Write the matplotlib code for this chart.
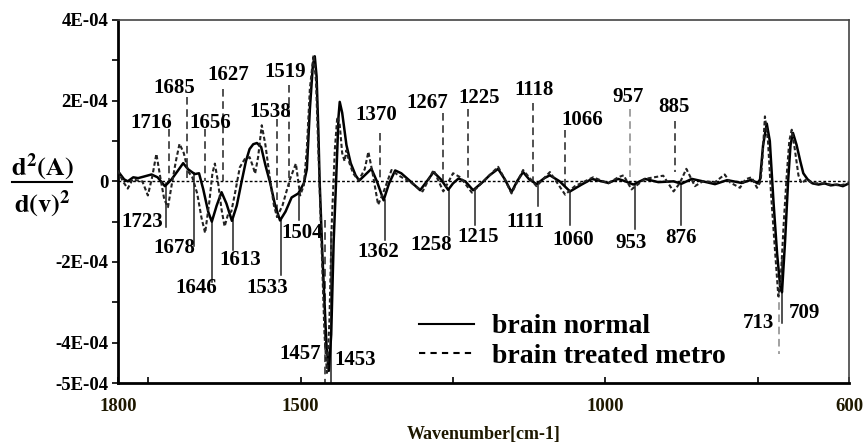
import matplotlib
matplotlib.use("Agg")
import matplotlib.pyplot as plt
from matplotlib.lines import Line2D
import numpy as np

# ---------------- data (values in units of 1E-04) ----------------
SCALE = 1e-4
normal_w = [1800, 1790, 1784, 1775, 1767, 1757, 1745, 1735, 1723, 1712, 1700, 1693, 1685, 1674,
            1667, 1660, 1652, 1646, 1638, 1630, 1622, 1613, 1605, 1597, 1590, 1584, 1578, 1572, 1565,
            1558, 1550, 1542, 1534, 1525, 1515, 1504, 1495, 1490, 1485, 1480, 1477, 1474, 1471,
            1469, 1464, 1458, 1454, 1450, 1446, 1442, 1438, 1436, 1432, 1425, 1418, 1410, 1404,
            1395, 1384, 1375, 1364, 1355, 1345, 1335, 1320, 1304, 1293, 1282, 1270, 1258, 1250,
            1241, 1230, 1217, 1200, 1190, 1176, 1165, 1154, 1145, 1135, 1125, 1113, 1100, 1091,
            1075, 1058, 1039, 1022, 995, 979, 967, 954, 935, 913, 888, 875, 858, 840, 820, 800,
            776, 760, 750, 746, 741, 735, 730, 724, 718, 713, 710, 705, 700, 696, 692, 686, 680,
            675, 668, 660, 650, 640, 630, 620, 610, 600]
normal_v = [0.25, 0.05, 0.0, 0.1, 0.08, 0.12, 0.17, 0.1, -0.12, 0.05, 0.3, 0.45, 0.3, 0.18,
            0.2, -0.2, -0.75, -1.0, -0.6, -0.27, -0.55, -0.98, -0.6, 0.0, 0.5, 0.8, 0.92, 0.95, 0.85,
            0.4, -0.05, -0.6, -0.97, -0.75, -0.4, -0.3, -0.05, 0.3, 1.8, 2.9, 3.1, 2.6, 1.2,
            0.0, -2.0, -4.0, -4.7, -3.8, -1.5, 0.0, 1.6, 1.97, 1.7, 0.9, 0.45, 0.15, 0.02,
            0.15, 0.31, 0.0, -0.47, -0.05, 0.27, 0.2, 0.0, -0.22, 0.0, 0.23, 0.05, -0.21, -0.05,
            0.07, 0.0, -0.22, 0.0, 0.15, 0.31, 0.05, -0.27, 0.0, 0.23, 0.05, -0.07, 0.08, 0.15,
            0.0, -0.25, -0.08, 0.06, -0.04, 0.06, 0.0, -0.08, 0.06, -0.02, 0.0, -0.06, 0.06, 0.0, -0.07, 0.03,
            -0.04, 0.04, -0.05, 0.05, 0.9, 1.43, 1.0, -0.5, -1.8, -2.6, -2.75, -1.5, 0.0, 0.9, 1.2, 0.9, 0.5,
            0.2, 0.05, -0.05, -0.08, -0.05, -0.1, -0.08, -0.12, -0.05]

metro_w = [1800, 1792, 1784, 1776, 1768, 1760, 1751, 1744, 1737, 1730, 1724, 1718, 1712, 1705,
           1699, 1692, 1685, 1678, 1670, 1663, 1657, 1650, 1645, 1641, 1636, 1630, 1625, 1619,
           1614, 1608, 1600, 1592, 1584, 1578, 1575, 1570, 1564, 1558, 1550, 1544, 1539, 1530,
           1518, 1508, 1501, 1495, 1490, 1485, 1479, 1475, 1470, 1465, 1461, 1457, 1453, 1449,
           1444, 1440, 1436, 1432, 1428, 1425, 1420, 1414, 1405, 1395, 1389, 1382, 1373, 1365,
           1351, 1340, 1320, 1300, 1282, 1266, 1250, 1238, 1219, 1200, 1176, 1165, 1154, 1135,
           1113, 1091, 1066, 1050, 1020, 995, 979, 970, 957, 935, 905, 888, 878, 867, 853, 840,
           820, 804, 795, 779, 770, 760, 751, 745, 742, 738, 733, 728, 722, 716, 712, 707, 702,
           698, 694, 689, 683, 678, 670, 660, 645, 630, 615, 600]
metro_v = [0.27, 0.0, -0.18, 0.05, 0.02, 0.0, -0.35, 0.1, 0.68, 0.05, -0.45, -0.64, -0.1, 0.5,
           0.93, 0.7, 0.25, 0.1, -0.3, -0.9, -1.28, -0.5, 0.2, 0.44, 0.0, -0.7, -1.12, -0.8,
           -0.75, -0.3, 0.35, 0.55, 0.6, 0.35, 0.19, 0.6, 1.39, 0.9, 0.0, -0.6, -0.88, -0.6,
           0.04, 0.44, -0.35, -0.1, 0.8, 2.3, 3.13, 2.5, 0.3, -2.0, -3.8, -4.75, -3.5, -1.0,
           0.8, 1.6, 1.4, 0.7, 0.5, 0.77, 0.45, 0.2, 0.02, 0.3, 0.73, 0.2, -0.58, -0.3,
           0.28, 0.15, -0.02, -0.25, 0.28, -0.25, 0.2, 0.1, -0.28, 0.0, 0.36, 0.05, -0.3, 0.28,
           -0.12, 0.23, -0.33, -0.12, 0.1, -0.05, 0.1, 0.15, -0.2, 0.06, 0.14, -0.25, -0.05, 0.31, -0.12, 0.0,
           -0.02, 0.17, -0.03, -0.16, 0.05, 0.1, -0.16, 0.0, 0.6, 1.61, 1.0, -0.3, -1.6, -2.85, -2.4, -1.0, 0.2,
           1.0, 1.28, 0.8, 0.15, -0.05, 0.05, -0.05, -0.05, -0.08, -0.1, -0.05]

series_names = ["brain normal", "brain treated metro"]

# peak annotations: label, marker wavenumber, line start, line end (1E-04)
up_labels = ["1716", "1685", "1656", "1627", "1538", "1519", "1370", "1267", "1225", "1118", "1066", "957", "885", "713"]
up_mark_w = [1716, 1687, 1658, 1627, 1539, 1520, 1370, 1267, 1225, 1118, 1066, 959, 886, 715]
up_y0 = [1.3, 2.1, 1.3, 2.3, 1.55, 2.4, 1.2, 1.7, 1.8, 1.95, 1.27, 1.8, 1.5, -2.7]
up_y1 = [0.0, 0.0, 0.0, 0.0, -0.9, -0.14, 0.0, 0.0, 0.0, 0.0, -0.2, 0.1, 0.23, -4.27]

down_labels = ["1723", "1678", "1646", "1613", "1533", "1504", "1457", "1453", "1362", "1258", "1215",
               "1111", "1060", "953", "876", "709"]
down_mark_w = [1722, 1676, 1646, 1612, 1532, 1503, 1461, 1451, 1362, 1257, 1214, 1110, 1058, 952, 875, 710]
down_y0 = [-0.05, 0.2, -0.97, -0.97, -0.97, -0.3, -0.97, -1.26, -0.47, -0.21, -0.22, -0.07, -0.25, -0.08, -0.06, -1.96]
down_y1 = [-1.13, -1.6, -2.5, -1.7, -2.33, -0.97, -5.0, -5.0, -1.46, -1.34, -1.09, -0.6, -1.09, -1.17, -1.09, -3.5]

ytick_vals = [4, 2, 0, -2, -4, -5]
ytick_labels = ["4E-04", "2E-04", "0", "-2E-04", "-4E-04", "-5E-04"]
xtick_vals = [1800, 1500, 1000, 600]

# ---------------- layout (pixel based) ----------------
W, H = 864, 442
def fx(px): return px / W
def fy(py): return 1 - py / H

# text positions for annotations (pixel centers)
up_text_px = [(151, 123), (174, 88), (210, 123), (228, 75), (270, 112), (285, 72), (376, 115),
              (427, 103), (479, 98), (534, 90), (582, 120), (628, 97), (674, 107), (758, 323)]
down_text_px = [(142, 222), (174, 248), (196, 288), (240, 260), (267, 288), (302, 233), (300, 354),
                (355, 360), (378, 252), (431, 245), (478, 237), (525, 222), (573, 240), (631, 243),
                (681, 238), (804, 313)]
gray_up = {"957", "713"}

SERIF = "Liberation Serif"
plt.rcParams["font.family"] = [SERIF, "DejaVu Serif"]
plt.rcParams["mathtext.fontset"] = "stix"

fig = plt.figure(figsize=(W / 100, H / 100), dpi=100)
ax = fig.add_axes([fx(118), fy(383), fx(849) - fx(118), fy(20) - fy(383)])

ax.set_xlim(1800, 600)
ax.set_ylim(-5 * SCALE, 4 * SCALE)

ax.axhline(0, color="black", lw=1.0, ls=(0, (2, 1.5)), zorder=1)

ax.plot(normal_w, np.array(normal_v) * SCALE, color="black", lw=1.8, zorder=3,
        solid_joinstyle="round")
ax.plot(metro_w, np.array(metro_v) * SCALE, color="#222222", lw=1.5, ls=(0, (2, 1.2)), zorder=4)

def px_to_data(px, py):
    disp = fig.transFigure.transform((fx(px), fy(py)))
    return ax.transData.inverted().transform(disp)

for lab, w, y0, y1, (tx, ty) in zip(up_labels, up_mark_w, up_y0, up_y1, up_text_px):
    col = "#888888" if lab in gray_up else "#222222"
    ax.plot([w, w], [y0 * SCALE, y1 * SCALE], color=col, lw=1.1, ls=(0, (5, 3)), zorder=2)
    dx, dy = px_to_data(tx, ty)
    ax.text(dx, dy, lab, ha="center", va="center", fontsize=15, fontweight="bold",
            family=SERIF, color="black", zorder=5)

for lab, w, y0, y1, (tx, ty) in zip(down_labels, down_mark_w, down_y0, down_y1, down_text_px):
    ls = (0, (5, 3)) if lab == "1457" else "-"
    ax.plot([w, w], [y0 * SCALE, y1 * SCALE], color="#222222", lw=1.1, ls=ls, zorder=2)
    dx, dy = px_to_data(tx, ty)
    ax.text(dx, dy, lab, ha="center", va="center", fontsize=15, fontweight="bold",
            family=SERIF, color="black", zorder=5)

# ticks
ax.set_yticks([v * SCALE for v in ytick_vals])
ax.set_yticklabels(ytick_labels)
ax.set_yticks([v * SCALE for v in [3, 1, -1, -3]], minor=True)
ax.set_xticks(xtick_vals)
ax.set_xticklabels([str(v) for v in xtick_vals])
ax.set_xticks([1750, 1250, 750], minor=True)
ax.tick_params(axis="y", which="both", direction="out", length=4, width=1.2, pad=3,
               labelsize=13.5)
ax.tick_params(axis="x", which="both", direction="in", length=4, width=1.2, pad=11,
               labelsize=13.5, labelcolor="#1e1800")
for t in ax.get_yticklabels() + ax.get_xticklabels():
    t.set_fontweight("bold")

for s in ["left", "bottom"]:
    ax.spines[s].set_linewidth(2.0)
    ax.spines[s].set_color("black")
for s in ["top", "right"]:
    ax.spines[s].set_linewidth(1.2)
    ax.spines[s].set_color("#444444")

ax.set_xlabel("Wavenumber[cm-1]", fontsize=13, fontweight="bold", color="#1e1800", labelpad=8)

# y label as a fraction
fig.text(fx(42), fy(167), r"$\mathbf{d^2(A)}$", ha="center", va="center", fontsize=19)
fig.text(fx(42), fy(204), r"$\mathbf{d(v)^2}$", ha="center", va="center", fontsize=19)
fig.add_artist(Line2D([fx(12), fx(72)], [fy(182), fy(182)], color="black", lw=1.5,
                      transform=fig.transFigure))

handles = [Line2D([], [], color="black", lw=1.5),
           Line2D([], [], color="black", lw=1.5, ls=(0, (3, 2.5)))]
leg = ax.legend(handles, series_names, loc="upper left",
                bbox_to_anchor=(fx(405), fy(300)), bbox_transform=fig.transFigure,
                frameon=False, prop={"family": SERIF, "weight": "bold", "size": 20},
                handlelength=2.0, handletextpad=0.65, labelspacing=0.15, borderpad=0)

fig.savefig("out.png", dpi=100)
